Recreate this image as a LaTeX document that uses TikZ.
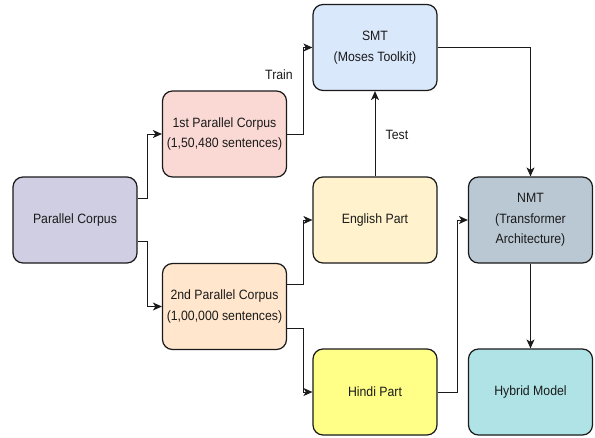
\documentclass[tikz,border=0pt]{standalone}
\usepackage{fontspec}
\setmainfont[FakeStretch=0.91]{Liberation Sans}
\usetikzlibrary{arrows.meta,calc}

\definecolor{cPurple}{HTML}{D0CEE2}
\definecolor{cPink}{HTML}{FAD9D5}
\definecolor{cPeach}{HTML}{FFE6CC}
\definecolor{cBlue}{HTML}{DAE8FC}
\definecolor{cCream}{HTML}{FFF2CC}
\definecolor{cYellow}{HTML}{FFFF88}
\definecolor{cSlate}{HTML}{BAC8D3}
\definecolor{cTeal}{HTML}{B0E3E6}
\definecolor{ink}{HTML}{1A1A1A}

\tikzset{
  block/.style={draw=ink, line width=1.2pt, rounded corners=10pt,
    minimum width=124pt, minimum height=86pt, align=center,
    text=ink, font=\fontsize{13.5}{20.5}\selectfont, inner sep=0pt},
  flow/.style={draw=ink, line width=0.9pt,
    -{Stealth[length=9pt,width=8pt,inset=2.5pt]}},
  lbl/.style={text=ink, font=\fontsize{13.5}{15}\selectfont}
}

\begin{document}
\begin{tikzpicture}[x=1pt, y=-1pt]
\useasboundingbox (0,0) rectangle (595,437);

% boxes
\node[block, fill=cPurple] (pc)    at (75,220)    {Parallel Corpus};
\node[block, fill=cPink]   (first) at (224.5,134) {1st Parallel Corpus\\(1,50,480 sentences)};
\node[block, fill=cPeach]  (second) at (224.5,306.5) {2nd Parallel Corpus\\(1,00,000 sentences)};
\node[block, fill=cBlue]   (smt)   at (375,47.5)  {SMT\\(Moses Toolkit)};
\node[block, fill=cCream]  (eng)   at (375,220)   {English Part};
\node[block, fill=cYellow] (hin)   at (375,392)   {Hindi Part};
\node[block, fill=cSlate]  (nmt)   at (530.5,220) {NMT\\(Transformer\\Architecture)};
\node[block, fill=cTeal]   (hyb)   at (530.5,392) {Hybrid Model};

% exit points on the right sides of the two splitting boxes
\coordinate (pcUp)  at ($(pc.north east)!0.25!(pc.south east)$);
\coordinate (pcLow) at ($(pc.north east)!0.75!(pc.south east)$);
\coordinate (scUp)  at ($(second.north east)!0.25!(second.south east)$);
\coordinate (scLow) at ($(second.north east)!0.75!(second.south east)$);

% connectors
\draw[flow] (pcUp)  -- ++(10,0) |- (first.west);
\draw[flow] (pcLow) -- ++(10,0) |- (second.west);
\draw[flow] (first.east) -- ++(16,0) |- (smt.west);
\draw[flow] (scUp)  -- ++(16,0) |- (eng.west);
\draw[flow] (scLow) -- ++(16,0) |- (hin.west);
\draw[flow] (eng.north) -- (smt.south);
\draw[flow] (smt.east) -| (nmt.north);
\draw[flow] (hin.east) -- ++(20,0) |- (nmt.west);
\draw[flow] (nmt.south) -- (hyb.north);

% edge labels
\node[lbl] (train) at (279,75)  {Train};
\node[lbl] (test)  at (397,135) {Test};
\end{tikzpicture}
\end{document}
